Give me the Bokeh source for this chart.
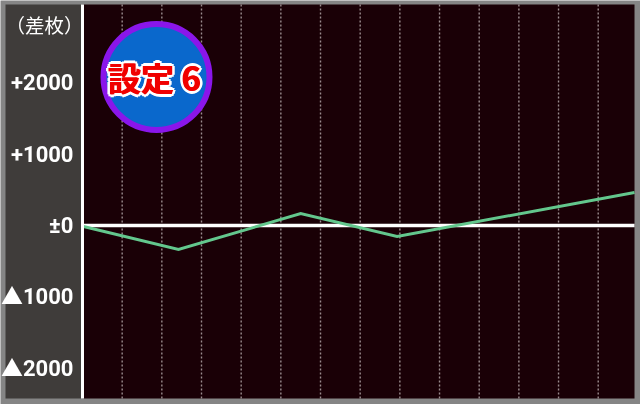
from bokeh.plotting import figure
from bokeh.models import FixedTicker, Range1d
from bokeh.core.properties import value
from bokeh.embed import file_html
from bokeh.resources import INLINE

games = [0, 2420, 5500, 7930, 13915]
diff = [-10, -337, 168, -154, 463]
y_ticks = [2000, 1000, 0, -1000, -2000]
y_labels = ["+2000", "+1000", "±0", "▲1000", "▲2000"]
grid_x = [1000, 2000, 3000, 4000, 5000, 6000, 7000, 8000, 9000, 10000, 11000, 12000, 13000]
header = "\uff08差枚\uff09"
badge = "設定 6"

W, H = 640, 404
X0, X1 = -2067, 14066      # whole picture in chart units
Y0, Y1 = -2510, 3156
PLOT_R, PLOT_B, PLOT_T = 13915, -2426, 3100
PANEL_L = -1941

p = figure(width=W, height=H, output_backend="svg", toolbar_location=None,
           x_range=Range1d(X0, X1), y_range=Range1d(Y0, Y1),
           min_border_left=0, min_border_right=0, min_border_top=0, min_border_bottom=0,
           x_axis_location=None)
p.styles = {"position": "fixed", "left": "0px", "top": "0px"}
p.background_fill_color = "#858585"
p.border_fill_color = "#858585"
p.outline_line_color = None
p.grid.visible = False

p.quad(left=[PANEL_L], right=[0], bottom=[PLOT_B], top=[PLOT_T], fill_color="#3f3c3a", line_color=None)
p.quad(left=[0], right=[PLOT_R], bottom=[PLOT_B], top=[PLOT_T], fill_color="#1a0006", line_color=None)

p.segment(x0=grid_x, y0=[PLOT_B] * len(grid_x), x1=grid_x, y1=[PLOT_T] * len(grid_x),
          line_color="#9a8b8e", line_width=1.4, line_dash="2 2")

ax = p.yaxis[0]
ax.fixed_location = 0
ax.bounds = (PLOT_B, PLOT_T)
ax.ticker = FixedTicker(ticks=y_ticks)
ax.major_label_overrides = dict(zip(y_ticks, y_labels))
ax.major_tick_line_color = None
ax.minor_tick_line_color = None
ax.major_tick_in = 0
ax.major_tick_out = 0
ax.axis_line_color = "#ffffff"
ax.axis_line_width = 3
ax.major_label_text_color = "#ffffff"
ax.major_label_text_font = "Roboto, 'Noto Sans CJK JP'"
ax.major_label_text_font_style = "bold"
ax.major_label_text_font_size = "22px"
ax.major_label_standoff = 9

p.text([-958], [2819], text=[header], text_color="#ffffff", text_font=value("Noto Sans CJK JP"),
       text_font_size="19.5px", text_baseline="middle", text_align="center")

p.line([0, PLOT_R], [0, 0], line_color="#ffffff", line_width=3.4)
p.line(games, diff, line_color="#63c78d", line_width=3, line_join="miter")

bx, by = [1865], [2083]
tx = [1815]
p.scatter(bx, by, size=106, marker="circle", fill_color="#0a68cc",
          line_color="#8a16ea", line_width=6)
for dx, dy in [(-2, -2), (0, -3), (2, -2), (3, 0), (2, 2), (0, 3), (-2, 2), (-3, 0)]:
    p.text(tx, by, text=[badge], text_color="#ffffff", text_font=value("Noto Sans CJK JP"),
           text_font_style="bold", text_font_size="33px", text_align="center",
           text_baseline="middle", x_offset=dx, y_offset=dy)
for dx in (-0.5, 0.5):
    p.text(tx, by, text=[badge], text_color="#f00000", text_font=value("Noto Sans CJK JP"),
           text_font_style="bold", text_font_size="33px", text_align="center",
           text_baseline="middle", x_offset=dx)

open("out.html", "w").write(file_html(p, INLINE))
